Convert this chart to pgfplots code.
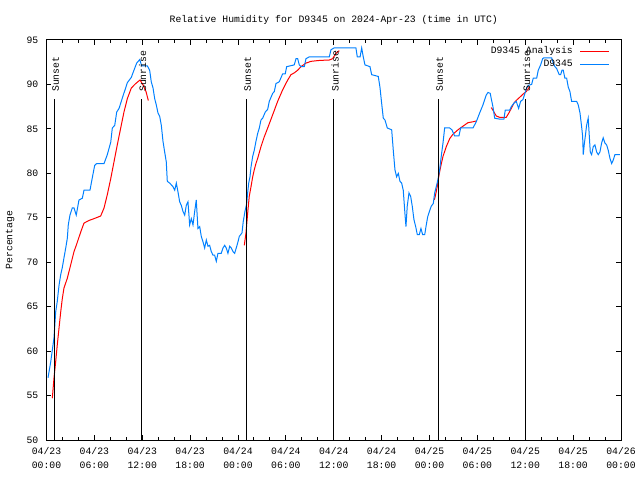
\documentclass[border=0pt]{standalone}
\usepackage{fontspec}
\setmainfont{Liberation Mono}
\usepackage{pgfplots}
\pgfplotsset{compat=1.18}
\definecolor{obsblue}{RGB}{0,128,255}

\begin{document}
\fontsize{9.8}{14}\selectfont
\begin{tikzpicture}
\begin{axis}[
  at={(46.5bp,40bp)}, anchor=south west,
  scale only axis, width=574.5bp, height=400bp,
  xmin=0, xmax=72, ymin=50, ymax=95,
  xtick={0,6,...,72}, minor xtick={0,2,...,72},
  xticklabels={{04/23\\00:00},{04/23\\06:00},{04/23\\12:00},{04/23\\18:00},
               {04/24\\00:00},{04/24\\06:00},{04/24\\12:00},{04/24\\18:00},
               {04/25\\00:00},{04/25\\06:00},{04/25\\12:00},{04/25\\18:00},
               {04/26\\00:00}},
  ytick={50,55,...,95},
  tick align=inside, major tick length=5bp, minor tick length=3bp,
  tick style={black, line width=1bp},
  axis line style={line width=1bp},
  font=\fontsize{9.8}{14}\selectfont,
  /pgf/number format/assume math mode=true,
  xticklabel style={align=center, inner sep=0pt, yshift=-7bp,
    font=\fontsize{9.8}{14.5}\selectfont},
  yticklabel style={inner sep=0pt, xshift=-8bp},
  title={Relative Humidity for D9345 on 2024-Apr-23 (time in UTC)},
  title style={at={(axis description cs:0.5,1.035)}, anchor=center, inner sep=0pt},
  ylabel={Percentage},
  every axis y label/.style={at={(axis description cs:-0.0635,0.5)}, rotate=90, anchor=center},
  legend style={at={(axis description cs:1,1)}, anchor=north east, xshift=-11bp, yshift=-5bp,
    draw=none, fill=none, inner sep=0pt, row sep=0pt, column sep=7bp,
    nodes={inner sep=0pt, text height=8bp, text depth=5bp}},
  legend plot pos=right, legend cell align=right,
  legend image code/.code={\draw[#1] (0bp,0bp) -- (29bp,0bp);},
  no markers,
]

% analysis (red), four pieces
\addplot[red, line width=1bp] coordinates {
(0.73,54.7) (0.94,57.0) (1.15,58.8) (1.35,60.7) (1.57,62.6) (1.78,64.4) (1.98,65.9)
(2.19,67.1) (2.61,68.2) (3.03,69.7) (3.45,71.2) (3.73,71.9) (4.29,73.4) (4.70,74.4)
(5.33,74.7) (5.95,74.9) (6.79,75.2) (7.21,76.1) (7.62,77.6) (8.05,79.4) (8.46,81.3)
(8.87,83.2) (9.30,85.1) (9.71,86.9) (10.13,88.4) (10.63,89.6) (11.18,90.1) (11.72,90.5)
(12.13,89.9) (12.47,89.2) (12.76,88.2)
};
\addlegendentry{D9345 Analysis}
\addplot[red, line width=1bp, forget plot] coordinates {
(24.79,71.9) (25.00,73.3) (25.21,75.5) (25.41,77.4) (25.63,78.5) (25.84,79.6) (26.04,80.4)
(26.25,81.1) (26.47,81.7) (26.88,83.0) (27.29,84.1) (27.72,85.1) (28.35,86.6) (28.97,88.1)
(29.60,89.4) (30.23,90.5) (30.64,91.1) (31.05,91.3) (31.48,91.6) (31.89,92.0) (32.52,92.4)
(33.15,92.6) (34.19,92.7) (35.44,92.75) (35.86,92.9) (36.28,93.5) (36.69,93.8)
};
\addplot[red, line width=1bp, forget plot] coordinates {
(48.60,77.0) (48.72,77.4) (48.97,78.5) (49.15,79.6) (49.40,80.75) (49.69,81.9) (50.10,83.0)
(50.53,83.9) (50.94,84.4) (51.57,84.9) (52.19,85.3) (52.82,85.7) (53.45,85.8) (53.91,85.9)
};
\addplot[red, line width=1bp, forget plot] coordinates {
(55.74,87.4) (55.95,87.1) (56.17,86.75) (56.37,86.45) (56.79,86.3) (57.62,86.3) (57.92,86.75)
(58.25,87.3) (58.58,87.9) (58.87,88.2) (59.30,88.55) (59.71,88.9) (60.13,89.2) (60.55,89.75)
};

% observations (blue)
\addplot[obsblue, line width=1bp] coordinates {
(0.19,57.0) (0.53,58.8) (0.94,61.5) (1.15,64.4) (1.35,65.6) (1.57,67.4) (1.78,68.6)
(1.98,69.4) (2.19,70.5) (2.41,71.6) (2.61,72.7) (2.73,74.2) (2.94,75.3) (3.23,76.1)
(3.45,76.1) (3.73,75.3) (4.07,77.0) (4.49,77.2) (4.70,78.1) (5.45,78.1) (5.74,79.5)
(6.04,80.9) (6.29,81.1) (7.21,81.1) (7.62,82.1) (8.05,83.5) (8.25,85.1) (8.55,85.4)
(8.80,86.9) (9.09,87.3) (9.62,88.8) (9.92,89.6) (10.13,90.2) (10.63,90.8) (10.96,91.6)
(11.30,92.4) (11.59,92.7) (11.68,92.8) (11.93,92.1) (12.63,92.1) (12.93,91.6) (13.13,90.3)
(13.35,89.6) (13.56,88.4) (13.76,87.7) (13.97,86.8) (14.19,86.4) (14.39,85.4) (14.60,83.6)
(14.81,82.4) (15.01,81.3) (15.14,79.1) (15.44,78.9) (15.85,78.5) (16.07,78.1) (16.27,78.9)
(16.48,77.9) (16.69,76.8) (16.89,76.4) (17.11,75.7) (17.32,75.3) (17.52,76.4) (17.73,76.8)
(17.94,74.2) (18.15,74.9) (18.36,74.2) (18.57,75.7) (18.77,77.0) (18.98,73.8) (19.20,74.0)
(19.40,72.9) (19.61,72.3) (19.82,71.6) (20.03,72.5) (20.24,71.8) (20.45,71.9) (20.65,71.2)
(20.86,70.8) (21.07,70.8) (21.28,70.1) (21.49,71.0) (21.90,71.0) (22.12,71.6) (22.33,71.9)
(22.53,71.6) (22.74,71.0) (22.96,71.8) (23.16,71.6) (23.37,71.2) (23.58,71.0) (23.78,71.6)
(24.00,72.3) (24.16,72.9) (24.50,73.3) (24.66,74.6) (24.87,75.7) (25.09,76.6) (25.21,77.8)
(25.34,78.9) (25.50,79.6) (25.63,80.7) (25.84,81.9) (26.04,82.6) (26.25,83.6) (26.47,84.5)
(26.67,85.1) (26.88,86.0) (27.09,86.2) (27.42,86.9) (27.72,87.2) (27.92,88.1) (28.35,89.0)
(28.55,89.2) (28.76,90.1) (29.17,90.3) (29.60,91.2) (29.92,91.2) (30.10,92.0) (31.05,92.2)
(31.27,92.9) (31.48,92.9) (31.68,92.2) (31.89,92.0) (32.31,92.0) (32.52,92.9) (32.93,93.1)
(35.44,93.1) (35.65,93.9) (36.03,94.1) (38.78,94.1) (38.95,93.1) (39.30,93.1) (39.50,94.1)
(39.70,93.1) (39.91,92.2) (40.54,92.0) (40.75,91.1) (41.58,90.9) (41.79,89.7) (42.00,87.9)
(42.21,86.2) (42.42,86.0) (42.71,85.1) (43.26,84.9) (43.46,82.6) (43.67,80.4) (43.88,79.6)
(44.09,80.0) (44.30,79.1) (44.51,78.9) (44.71,78.1) (44.92,75.5) (45.05,74.0) (45.21,76.3)
(45.43,77.8) (45.64,77.4) (45.84,76.3) (46.05,74.8) (46.27,74.0) (46.47,73.1) (46.72,73.1)
(46.93,73.8) (47.14,73.1) (47.40,73.1) (47.56,74.0) (47.77,75.1) (48.06,75.9) (48.22,76.3)
(48.47,76.6) (48.65,77.8) (48.85,78.5) (49.06,79.3) (49.27,80.4) (49.47,81.9) (49.69,83.4)
(49.90,85.1) (50.53,85.1) (50.81,84.9) (51.15,84.2) (51.69,84.2) (51.90,85.1) (53.45,85.1)
(53.86,85.8) (54.29,86.8) (54.70,87.7) (55.11,88.8) (55.33,89.1) (55.61,89.0) (55.74,88.4)
(55.95,87.5) (56.17,86.2) (56.79,86.1) (57.33,86.1) (57.49,87.1) (58.05,87.1) (58.25,87.5)
(58.58,87.9) (58.87,88.1) (59.17,87.3) (59.42,88.1) (59.71,88.3) (59.96,89.0) (60.18,89.6)
(60.38,89.9) (60.80,90.0) (61.00,90.7) (61.43,90.7) (61.63,91.6) (61.93,92.2) (62.18,92.9)
(62.34,93.0) (63.31,93.0) (63.51,92.4) (63.72,92.0) (63.93,91.8) (64.26,91.1) (64.44,91.1)
(64.60,91.6) (64.76,91.6) (64.97,90.7) (65.19,90.7) (65.39,89.7) (65.60,89.2) (65.81,88.1)
(66.44,88.1) (66.64,87.7) (66.86,86.8) (67.07,85.2) (67.19,84.2) (67.27,82.1) (67.39,83.2)
(67.57,84.5) (67.69,85.4) (67.89,86.2) (68.02,84.3) (68.15,82.4) (68.32,82.1) (68.52,83.0)
(68.73,83.2) (68.95,82.4) (69.15,82.1) (69.36,82.4) (69.57,83.4) (69.77,84.0) (69.99,83.4)
(70.20,83.2) (70.40,82.6) (70.61,81.7) (70.83,81.1) (71.03,81.5) (71.24,82.1) (71.87,82.1)
};
\addlegendentry{D9345}

% sunset / sunrise markers
\addplot[black, line width=1bp, forget plot] coordinates {(0.98,50) (0.98,88.36)};
\addplot[black, line width=1bp, forget plot] coordinates {(11.88,50) (11.88,88.36)};
\addplot[black, line width=1bp, forget plot] coordinates {(25.04,50) (25.04,88.36)};
\addplot[black, line width=1bp, forget plot] coordinates {(35.99,50) (35.99,88.36)};
\addplot[black, line width=1bp, forget plot] coordinates {(49.10,50) (49.10,88.36)};
\addplot[black, line width=1bp, forget plot] coordinates {(60.00,50) (60.00,88.36)};
\node[rotate=90, anchor=west, inner sep=0pt] at (axis cs:1.16,89.15) {Sunset};
\node[rotate=90, anchor=west, inner sep=0pt] at (axis cs:12.06,89.15) {Sunrise};
\node[rotate=90, anchor=west, inner sep=0pt] at (axis cs:25.22,89.15) {Sunset};
\node[rotate=90, anchor=west, inner sep=0pt] at (axis cs:36.17,89.15) {Sunrise};
\node[rotate=90, anchor=west, inner sep=0pt] at (axis cs:49.28,89.15) {Sunset};
\node[rotate=90, anchor=west, inner sep=0pt] at (axis cs:60.18,89.15) {Sunrise};
\end{axis}
\pgfresetboundingbox
\path[use as bounding box] (0,0) rectangle (640bp,480bp);
\end{tikzpicture}
\end{document}
